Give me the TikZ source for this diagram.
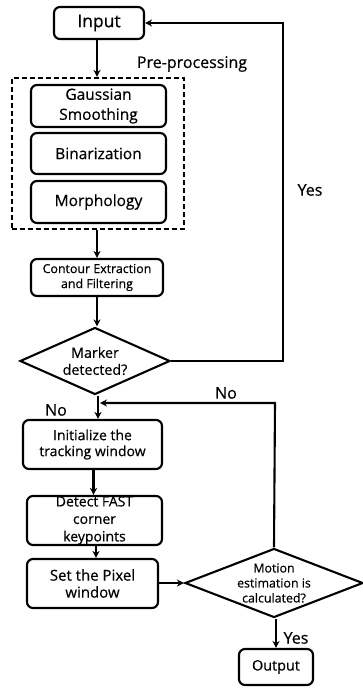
\documentclass[tikz,border=0pt]{standalone}
\usepackage{fontspec}
\setmainfont{Open Sans}[FakeBold=0.5]
\usetikzlibrary{shapes.geometric,arrows.meta,calc}
\tikzset{
  box/.style={draw,line width=2.1pt,rounded corners=6pt,inner sep=0pt,align=center},
  dia/.style={draw,line width=2.1pt,diamond,inner sep=0pt},
  txt/.style={inner sep=0pt,align=center},
  conn/.style={line width=2.1pt,-{Stealth[length=7pt,width=7pt]}},
  fs/.style 2 args={font=\fontsize{#1}{#2}\selectfont}
}
\begin{document}
\begin{tikzpicture}[x=1pt,y=-1pt]
\useasboundingbox (0,0) rectangle (363,688);
\node[box,minimum width=90pt,minimum height=32pt,fs={17.5}{20}] (input) at (99,23) {Input};
\node[txt,fs={16}{19}] (prelab) at (192,64) {Pre-processing};
\node[draw,line width=2.1pt,dash pattern=on 5pt off 3pt,minimum width=172pt,minimum height=151pt,inner sep=0pt] (pre) at (98,153.5) {};
\node[box,minimum width=135pt,minimum height=42pt,fs={15.5}{20}] (gauss) at (98.5,106) {Gaussian\\Smoothing};
\node[box,minimum width=135pt,minimum height=41pt,fs={15.5}{20}] (bin) at (98.5,153.5) {Binarization};
\node[box,minimum width=135pt,minimum height=42pt,fs={15.5}{20}] (morph) at (98.5,202) {Morphology};
\node[box,minimum width=132pt,minimum height=37pt,fs={12.4}{15}] (contour) at (97,277.5) {Contour Extraction\\and Filtering};
\node[dia,minimum width=150pt,minimum height=67pt,aspect=2.24] (marker) at (95,361) {};
\node[txt,fs={14.3}{17}] (markertxt) at (marker.center) {Marker\\detected?};
\node[box,minimum width=139pt,minimum height=49pt,fs={14}{16}] (init) at (92.5,444.5) {Initialize the\\tracking window};
\node[box,minimum width=135pt,minimum height=49pt,fs={14}{17.5}] (detect) at (94.5,520.5) {Detect FAST\\corner\\keypoints};
\node[box,minimum width=131pt,minimum height=49pt,fs={15}{17}] (set) at (92.5,583.5) {Set the Pixel\\window};
\node[dia,minimum width=178pt,minimum height=69pt,aspect=2.58] (motion) at (274,583) {};
\node[txt,fs={12.4}{15}] (motiontxt) at (motion.center) {Motion\\estimation is\\calculated?};
\node[box,minimum width=74pt,minimum height=36pt,fs={14.4}{17}] (output) at (276,667) {Output};
\node[txt,fs={16}{19}] (yes1) at (310,190) {Yes};
\node[txt,fs={16}{19}] (no1) at (56,410) {No};
\node[txt,fs={16}{19}] (no2) at (226,393) {No};
\node[txt,fs={16}{19}] (yes2) at (296,638) {Yes};
\coordinate (fb) at (98,403);
\coordinate (rt) at (283,361);
\coordinate (mt) at (275,403);
\draw[conn] ([xshift=-2pt]input.south) -- ([xshift=-2pt]input.south |- pre.north);
\draw[conn] ([xshift=-1pt]pre.south) -- ([xshift=-1pt]pre.south |- contour.north);
\draw[conn] (contour.south) -- (contour.south |- marker.north);
\draw[conn] ([xshift=3pt]marker.south) -- ([xshift=3pt]marker.south |- init.north);
\draw[conn] ([xshift=1pt]init.south) -- ([xshift=1pt]init.south |- detect.north);
\draw[conn] ([xshift=1.5pt]detect.south) -- ([xshift=1.5pt]detect.south |- set.north);
\draw[conn] (set.east |- motion.west) -- (motion.west);
\draw[conn] ([xshift=2pt]motion.south) -- ([xshift=2pt]motion.south |- output.north);
\draw[conn] (marker.east) -- (rt) |- (input.east);
\draw[conn] (motion.north) -- (mt) -- ([xshift=2pt]fb);
\end{tikzpicture}
\end{document}
